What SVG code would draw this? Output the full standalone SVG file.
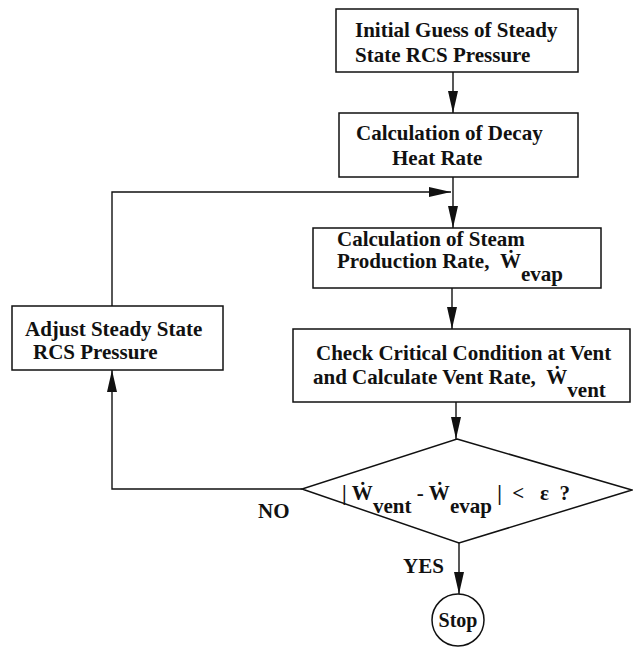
<svg xmlns="http://www.w3.org/2000/svg" width="633" height="648" viewBox="0 0 633 648">
<defs>
<marker id="ah" markerUnits="userSpaceOnUse" markerWidth="24" markerHeight="12" refX="22" refY="5" orient="auto">
<path d="M0,0 L22,5 L0,10 z" fill="#111"/>
</marker>
<style>
.box{fill:#fff;stroke:#111;stroke-width:1.5}
.ln{fill:none;stroke:#111;stroke-width:1.4}
text{font-family:"Liberation Serif","DejaVu Serif",serif;font-weight:bold;font-size:21px;fill:#111}
</style>
</defs>
<rect width="633" height="648" fill="#fff"/>
<g id="connectors">
<line class="ln" x1="453" y1="72" x2="453" y2="113" marker-end="url(#ah)"/>
<line class="ln" x1="453" y1="177" x2="453" y2="228" marker-end="url(#ah)"/>
<polyline class="ln" points="112,306 112,192 451,192" marker-end="url(#ah)"/>
<line class="ln" x1="452" y1="288" x2="452" y2="329" marker-end="url(#ah)"/>
<line class="ln" x1="456" y1="402" x2="456" y2="439" marker-end="url(#ah)"/>
<polyline class="ln" points="302,489 112,489 112,370" marker-end="url(#ah)"/>
<line class="ln" x1="459" y1="543" x2="459" y2="594" marker-end="url(#ah)"/>
<text x="258" y="518">NO</text>
<text x="403" y="573">YES</text>
</g>
<g id="n1">
<rect class="box" x="336" y="9" width="242" height="63"/>
<text x="355" y="37">Initial Guess of Steady</text>
<text x="355" y="62">State RCS Pressure</text>
</g>
<g id="n2">
<rect class="box" x="339" y="113" width="239" height="64"/>
<text x="356" y="140">Calculation of Decay</text>
<text x="392" y="165">Heat Rate</text>
</g>
<g id="n3">
<rect class="box" x="313" y="228" width="288" height="60"/>
<text x="337" y="246">Calculation of Steam</text>
<text x="337" y="268" xml:space="preserve">Production Rate,  Ẇ<tspan dy="13">evap</tspan></text>
</g>
<g id="n4">
<rect class="box" x="12" y="306" width="211" height="64"/>
<text x="25" y="336">Adjust Steady State</text>
<text x="33" y="359">RCS Pressure</text>
</g>
<g id="n5">
<rect class="box" x="293" y="329" width="337" height="73"/>
<text x="316" y="360">Check Critical Condition at Vent</text>
<text x="313" y="384" xml:space="preserve">and Calculate Vent Rate,  Ẇ<tspan dy="13">vent</tspan></text>
</g>
<g id="n6">
<polygon class="box" points="457,439 632,490 459,543 302,489"/>
<text x="342" y="500" xml:space="preserve">| Ẇ<tspan dy="13">vent</tspan><tspan dy="-13"> - Ẇ</tspan><tspan dy="13">evap</tspan><tspan dy="-13"> |  &lt;   ε  ?</tspan></text>
</g>
<g id="n7">
<circle class="box" cx="458" cy="620" r="26"/>
<text x="458" y="627" text-anchor="middle" style="font-size:20px">Stop</text>
</g>
</svg>
